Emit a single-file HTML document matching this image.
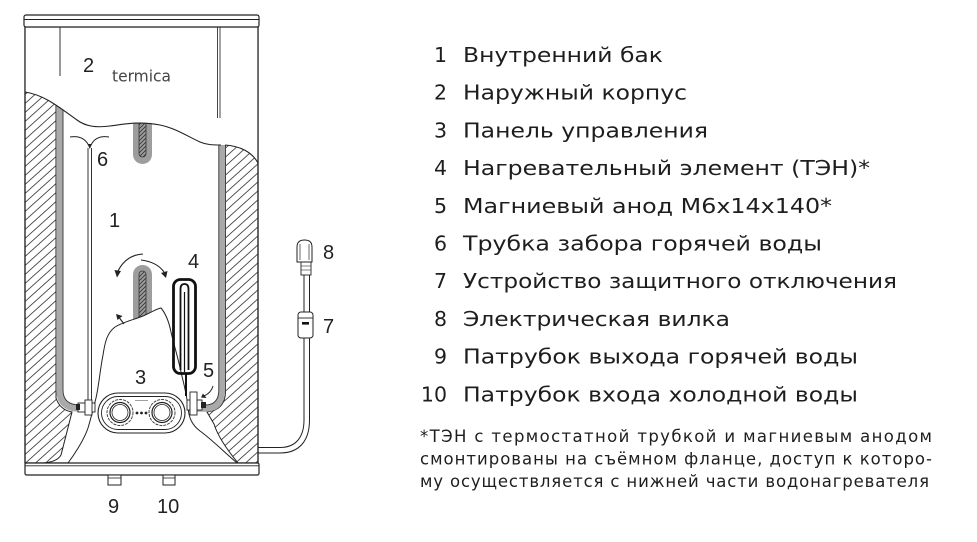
<!DOCTYPE html>
<html><head><meta charset="utf-8"><style>
html,body{margin:0;padding:0;background:#fff;}
svg{display:block;}
</style></head><body>
<svg width="977" height="542" viewBox="0 0 977 542" xmlns="http://www.w3.org/2000/svg">
<defs>
<pattern id="h" width="10" height="9" patternUnits="userSpaceOnUse">
<path d="M-1,0.9 L1,-0.9 M0,9 L10,0 M9,9.9 L11,8.1" stroke="#444" stroke-width="0.85"/>
</pattern>
<pattern id="hs" width="4" height="4" patternUnits="userSpaceOnUse">
<path d="M-1,1 L1,-1 M0,4 L4,0 M3,5 L5,3" stroke="#333" stroke-width="0.8"/>
</pattern>
</defs>
<rect width="977" height="542" fill="#fff"/>

<!-- outer body -->
<rect x="25" y="27" width="233" height="436" fill="#fff" stroke="#222" stroke-width="1.2"/>

<!-- hatches -->
<path d="M25,92 C40,94 50,99 56,104 L56,398 Q60,410 72,412 L61,455 Q57,462 43,463 L25,463 Z" fill="url(#h)"/>
<path d="M225,145 C240,146 252,152 258,163 L258,463 L238,463 Q219,440 214,424 L207,412 Q225,410 225.5,392 Z" fill="url(#h)"/>
<path d="M56,104 L56,398 Q60,410 72,412 L61,455 Q57,462 43,463" fill="none" stroke="#222" stroke-width="1"/>
<path d="M225.5,145 L225.5,392 Q225,410 207,412 L214,424 Q219,440 238,463" fill="none" stroke="#222" stroke-width="1"/>

<!-- tank walls -->
<path d="M59.5,100 L59.5,390 Q59.5,408.5 80,408.5 L205,408.5 Q222,408.5 222,390 L222,140" fill="none" stroke="#a9a9a9" stroke-width="6.5"/>
<path d="M63,100 L63,390 Q63,405 80,405 L205,405 Q218.8,405 218.8,390 L218.8,140" fill="none" stroke="#333" stroke-width="0.9"/>

<!-- tube 6 -->
<line x1="88" y1="148" x2="88" y2="402" stroke="#333" stroke-width="1"/>
<line x1="91.5" y1="148" x2="91.5" y2="402" stroke="#333" stroke-width="1"/>
<path d="M70,137 Q83,135 88.5,145 M109,137 Q96,135 91,145" fill="none" stroke="#222" stroke-width="1"/>
<path d="M87.5,144 L92,144 L89.8,149 Z" fill="#222"/>

<!-- upper anode -->
<rect x="133" y="105" width="19" height="59" rx="9.5" fill="#9d9d9d"/>
<rect x="139" y="105" width="7" height="52" rx="3.5" fill="url(#hs)" stroke="#333" stroke-width="0.8"/>

<!-- lower anode -->
<rect x="133" y="265" width="19" height="70" rx="9.5" fill="#9d9d9d"/>
<rect x="139" y="271" width="7" height="64" rx="3.5" fill="url(#hs)" stroke="#333" stroke-width="0.8"/>

<!-- upper white region -->
<path d="M25.6,27.6 L257.4,27.6 L257.4,162 C252,152 240,146 225,145 L220,145 C213,145 207,145 200,142 C187,136 175,128 160,125 C140,121 125,124 110,126 C95,128 85,126 77,120 C60,108 45,95 25.6,92 Z" fill="#fff"/>
<path d="M25,92 C45,95 60,108 77,120 C85,126 95,128 110,126 C125,124 140,121 160,125 C175,128 187,136 200,142 C207,145 213,145 221,145" fill="none" stroke="#222" stroke-width="1.1"/>
<path d="M225,145 C240,146 252,152 258,163" fill="none" stroke="#222" stroke-width="1.1"/>
<line x1="25" y1="27" x2="25" y2="463" stroke="#222" stroke-width="1.2"/>
<line x1="258" y1="27" x2="258" y2="463" stroke="#222" stroke-width="1.2"/>

<!-- top cap -->
<rect x="24" y="15" width="235" height="12" rx="2" fill="#fff" stroke="#222" stroke-width="1.2"/>
<line x1="24" y1="19.5" x2="259" y2="19.5" stroke="#222" stroke-width="0.9"/>
<line x1="60" y1="27" x2="60" y2="76" stroke="#333" stroke-width="1"/>
<line x1="217.5" y1="27" x2="217.5" y2="118" stroke="#333" stroke-width="0.9"/>
<line x1="220" y1="27" x2="220" y2="118" stroke="#333" stroke-width="0.9"/>

<text x="112" y="81.5" font-family="DejaVu Sans, sans-serif" font-size="16" fill="#444" textLength="59" lengthAdjust="spacingAndGlyphs">termica</text>

<!-- rock cutout -->
<path d="M68,463 C74,455 84,440 88,428 C91,418 93,410 96,398 C99,385 100,370 103,355 C105,342 107,333 115,327 C123,322 133,320 143,316 C150,313 156,309 161,308 C166,314 169,322 171,332 C174,345 178,358 181,372 C184,385 187,395 188,408 C189,418 192,425 200,431 C210,438 222,450 237,463 Z" fill="#fff" stroke="#222" stroke-width="1"/>

<!-- control panel -->
<rect x="98" y="393" width="87" height="40" rx="20" fill="#fff" stroke="#222" stroke-width="1.1"/>
<rect x="101.5" y="396.5" width="80" height="33" rx="16.5" fill="none" stroke="#222" stroke-width="0.9"/>
<circle cx="120" cy="412.5" r="13" fill="#fff" stroke="#333" stroke-width="0.9" stroke-dasharray="3 1"/>
<circle cx="120" cy="412.5" r="10" fill="#fff" stroke="#222" stroke-width="1.2"/>
<circle cx="120" cy="412.5" r="8" fill="none" stroke="#222" stroke-width="0.8"/>
<circle cx="162" cy="412.5" r="13" fill="#fff" stroke="#333" stroke-width="0.9" stroke-dasharray="3 1"/>
<circle cx="162" cy="412.5" r="10" fill="#fff" stroke="#222" stroke-width="1.2"/>
<circle cx="162" cy="412.5" r="8" fill="none" stroke="#222" stroke-width="0.8"/>
<circle cx="137" cy="413" r="1.4" fill="#222"/>
<circle cx="141.5" cy="413" r="1.4" fill="#222"/>
<circle cx="146" cy="413" r="1.4" fill="#222"/>
<line x1="135" y1="400.5" x2="148" y2="400.5" stroke="#888" stroke-width="0.8"/>

<!-- heating element -->
<rect x="173.5" y="279.5" width="22" height="94" rx="7" fill="none" stroke="#111" stroke-width="2.8"/>
<path d="M180.5,370 L180.5,289 Q180.5,284 184.5,284 Q188.5,284 188.5,289 L188.5,370" fill="none" stroke="#111" stroke-width="1.8"/>
<line x1="184.5" y1="292" x2="184.5" y2="372" stroke="#111" stroke-width="1.2"/>
<line x1="186" y1="374" x2="186" y2="396" stroke="#111" stroke-width="2"/>

<!-- fittings -->
<rect x="78" y="403" width="17" height="9" fill="#fff" stroke="#222" stroke-width="0.9"/>
<rect x="85" y="400" width="7" height="15" fill="#fff" stroke="#222" stroke-width="0.9"/>
<rect x="76" y="404" width="4" height="6" fill="#222"/>
<rect x="187" y="400" width="15" height="10" fill="#fff" stroke="#222" stroke-width="0.9"/>
<rect x="190" y="392" width="7" height="23" fill="#fff" stroke="#222" stroke-width="0.9"/>
<rect x="201" y="402" width="5" height="6" fill="#222"/>

<!-- arrows -->
<path d="M143,254 Q126,255 118,271" fill="none" stroke="#222" stroke-width="1.1"/>
<path d="M114.5,270 L121,271 L117,277.5 Z" fill="#222"/>
<path d="M141,260 Q157,262 164,272" fill="none" stroke="#222" stroke-width="1.1"/>
<path d="M161,273 L167.5,271 L166,278 Z" fill="#222"/>
<path d="M124,324 L119.5,318" fill="none" stroke="#222" stroke-width="1.1"/>
<path d="M116,314 L122.5,316 L117.5,320 Z" fill="#222"/>
<path d="M213,386 Q211,393 204,396" fill="none" stroke="#222" stroke-width="1"/>
<path d="M203,393.5 L206.5,398 L201,397.5 Z" fill="#222"/>

<!-- base -->
<rect x="25" y="463" width="234" height="12" rx="1.5" fill="#fff" stroke="#222" stroke-width="1.2"/>
<line x1="25" y1="465.8" x2="259" y2="465.8" stroke="#222" stroke-width="0.8"/>
<rect x="108" y="475" width="13" height="10" fill="#fff" stroke="#222" stroke-width="1"/>
<line x1="108" y1="478" x2="121" y2="478" stroke="#222" stroke-width="0.8"/>
<rect x="163" y="475" width="12" height="10" fill="#fff" stroke="#222" stroke-width="1"/>
<line x1="163" y1="478" x2="175" y2="478" stroke="#222" stroke-width="0.8"/>

<!-- cable -->
<path d="M258,447.5 L280,447.5 C296,447.5 304,437 304,420 L304,275" fill="none" stroke="#222" stroke-width="1"/>
<path d="M258,453 L280,453 C300,453 309.5,440 309.5,420 L309.5,275" fill="none" stroke="#222" stroke-width="1"/>
<rect x="298" y="312" width="15" height="26" rx="3" fill="#fff" stroke="#222" stroke-width="1"/>
<line x1="298" y1="318" x2="313" y2="318" stroke="#222" stroke-width="0.9"/>
<rect x="302" y="322" width="7" height="2.6" fill="#111"/>
<rect x="301" y="262" width="10" height="13" fill="#fff" stroke="#222" stroke-width="0.9"/>
<path d="M301,266 L311,266 M301,270 L311,270" stroke="#555" stroke-width="0.7"/>
<path d="M297,262 L297,247 Q297,240 304.5,240 Q312,240 312,247 L312,262 Z" fill="#fff" stroke="#222" stroke-width="1"/>
<path d="M300,244 L300,260 M309,244 L309,260" stroke="#444" stroke-width="0.8"/>

<!-- diagram labels -->
<g font-family="Liberation Sans, sans-serif" font-size="20" fill="#222">
<text x="83" y="72">2</text>
<text x="97" y="166">6</text>
<text x="109" y="227">1</text>
<text x="188" y="268">4</text>
<text x="135" y="384">3</text>
<text x="203" y="377">5</text>
<text x="323" y="259">8</text>
<text x="323" y="333">7</text>
<text x="108" y="513">9</text>
<text x="157" y="513">10</text>
</g>

<!-- legend -->
<g font-family="DejaVu Sans, Verdana, sans-serif" font-size="20.5" fill="#1e1e1e">
<text x="447" y="62" text-anchor="end">1</text>
<text x="463" y="62" textLength="200" lengthAdjust="spacingAndGlyphs">Внутренний бак</text>
<text x="447" y="99.7" text-anchor="end">2</text>
<text x="463" y="99.7" textLength="224" lengthAdjust="spacingAndGlyphs">Наружный корпус</text>
<text x="447" y="137.4" text-anchor="end">3</text>
<text x="463" y="137.4" textLength="245" lengthAdjust="spacingAndGlyphs">Панель управления</text>
<text x="447" y="175.1" text-anchor="end">4</text>
<text x="463" y="175.1" textLength="407" lengthAdjust="spacingAndGlyphs">Нагревательный элемент (ТЭН)*</text>
<text x="447" y="212.8" text-anchor="end">5</text>
<text x="463" y="212.8" textLength="369" lengthAdjust="spacingAndGlyphs">Магниевый анод М6х14х140*</text>
<text x="447" y="250.5" text-anchor="end">6</text>
<text x="463" y="250.5" textLength="359" lengthAdjust="spacingAndGlyphs">Трубка забора горячей воды</text>
<text x="447" y="288.2" text-anchor="end">7</text>
<text x="463" y="288.2" textLength="434" lengthAdjust="spacingAndGlyphs">Устройство защитного отключения</text>
<text x="447" y="325.9" text-anchor="end">8</text>
<text x="463" y="325.9" textLength="267" lengthAdjust="spacingAndGlyphs">Электрическая вилка</text>
<text x="447" y="363.6" text-anchor="end">9</text>
<text x="463" y="363.6" textLength="395" lengthAdjust="spacingAndGlyphs">Патрубок выхода горячей воды</text>
<text x="447" y="401.3" text-anchor="end">10</text>
<text x="463" y="401.3" textLength="395" lengthAdjust="spacingAndGlyphs">Патрубок входа холодной воды</text>
</g>
<g font-family="DejaVu Sans, Verdana, sans-serif" font-size="16.5" fill="#1e1e1e">
<text x="420" y="442" textLength="512" lengthAdjust="spacing">*ТЭН с термостатной трубкой и магниевым анодом</text>
<text x="420" y="464.5" textLength="512" lengthAdjust="spacing">смонтированы на съёмном фланце, доступ к которо-</text>
<text x="420" y="487" textLength="509" lengthAdjust="spacing">му осуществляется с нижней части водонагревателя</text>
</g>
</svg>
</body></html>
